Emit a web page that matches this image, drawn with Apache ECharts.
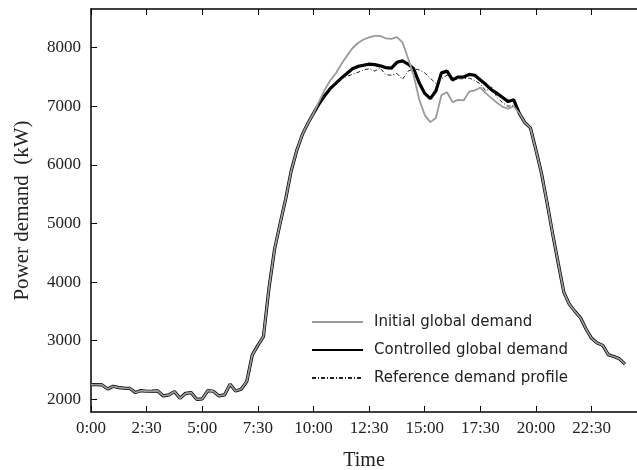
<!DOCTYPE html>
<html><head><meta charset="utf-8">
<script src="https://cdn.jsdelivr.net/npm/echarts@6/dist/echarts.min.js"></script>
<style>html,body{margin:0;padding:0;background:#fff}#c{width:637px;height:470px}</style>
</head><body><div id="c"></div>
<script>
// sampling step of the demand profiles (hours)
const STEP_HOURS = 0.25;

const initialDemand = [
  2250,2250,2245,2176,2222,2199,2190,2185,2114,2148,2137,2138,2142,2057,2074,2131,
  2017,2102,2114,2000,2006,2148,2137,2057,2074,2256,2142,2171,2302,2757,2920,3070,
  3900,4560,5000,5420,5900,6250,6520,6710,6880,7080,7280,7440,7560,7720,7860,7990,
  8080,8140,8175,8200,8200,8160,8150,8180,8090,7820,7530,7120,6850,6730,6800,7190,
  7240,7070,7110,7100,7250,7270,7320,7220,7140,7060,6990,6960,7000,6880,6720,6630,
  6250,5850,5350,4820,4320,3830,3620,3500,3390,3200,3040,2960,2920,2760,2730,2690,2600
];
const controlledDemand = [
  2250,2250,2245,2176,2222,2199,2190,2185,2114,2148,2137,2138,2142,2057,2074,2131,
  2017,2102,2114,2000,2006,2148,2137,2057,2074,2256,2142,2171,2302,2757,2920,3070,
  3900,4560,5000,5420,5900,6250,6520,6710,6880,7040,7180,7300,7390,7480,7560,7640,
  7680,7700,7720,7710,7690,7660,7650,7750,7775,7720,7640,7400,7220,7130,7260,7570,
  7600,7450,7500,7500,7545,7530,7450,7370,7280,7220,7150,7080,7110,6880,6720,6630,
  6250,5850,5350,4820,4320,3830,3620,3500,3390,3200,3040,2960,2920,2760,2730,2690,2600
];
const referenceDemand = [
  2250,2250,2245,2176,2222,2199,2190,2185,2114,2148,2137,2138,2142,2057,2074,2131,
  2017,2102,2114,2000,2006,2148,2137,2057,2074,2256,2142,2171,2302,2757,2920,3070,
  3900,4560,5000,5420,5900,6250,6520,6710,6880,7040,7200,7330,7400,7470,7510,7545,
  7580,7620,7640,7600,7650,7540,7530,7560,7460,7600,7640,7620,7570,7480,7390,7470,
  7530,7430,7470,7470,7480,7440,7380,7260,7330,7150,7060,7000,7020,6880,6720,6630,
  6250,5850,5350,4820,4320,3830,3620,3500,3390,3200,3040,2960,2920,2760,2730,2690,2600
];

const seriesNames = ['Initial global demand', 'Controlled global demand', 'Reference demand profile'];
const xTickHours = [0, 2.5, 5, 7.5, 10, 12.5, 15, 17.5, 20, 22.5];
const yTickValues = [2000, 3000, 4000, 5000, 6000, 7000, 8000];

function toPairs(vals) { return vals.map((v, i) => [i * STEP_HOURS, v]); }
function fmtTime(h) {
  const H = Math.floor(h + 1e-9);
  const M = Math.round((h - H) * 60);
  return H + ':' + (M < 10 ? '0' : '') + M;
}

const chart = echarts.init(document.getElementById('c'), null, { renderer: 'canvas' });
const axisLineStyle = { color: '#000', width: 1.5 };
const tickStyle = { color: '#000', width: 1 };

chart.setOption({
  animation: false,
  backgroundColor: '#fff',
  grid: { left: 91, right: 0, top: 9, bottom: 58, containLabel: false, outerBoundsMode: 'none' },
  legend: {
    orient: 'vertical', left: 311, top: 314, padding: 0,
    itemWidth: 51, itemHeight: 20, itemGap: 12,
    data: seriesNames,
    itemStyle: { opacity: 0 },
    textStyle: { fontFamily: 'DejaVu Sans', fontSize: 15, color: '#222', padding: [0, 0, 0, 6] }
  },
  xAxis: [
    {
      type: 'value', position: 'bottom', min: 0, max: 24.54,
      axisLine: { show: true, onZero: false, lineStyle: axisLineStyle },
      axisTick: { show: true, inside: true, length: 6, lineStyle: tickStyle, customValues: xTickHours },
      axisLabel: {
        show: true, customValues: xTickHours, formatter: fmtTime, margin: 8,
        fontFamily: 'Liberation Serif', fontSize: 17, color: '#222'
      },
      splitLine: { show: false },
      name: 'Time', nameLocation: 'middle', nameGap: 39,
      nameTextStyle: { fontFamily: 'Liberation Serif', fontSize: 20, color: '#222' }
    },
    {
      type: 'value', position: 'top', min: 0, max: 24.54,
      axisLine: { show: true, onZero: false, lineStyle: axisLineStyle },
      axisTick: { show: true, inside: true, length: 6, lineStyle: tickStyle, customValues: xTickHours },
      axisLabel: { show: false },
      splitLine: { show: false }
    }
  ],
  yAxis: {
    type: 'value', min: 1783, max: 8660,
    axisLine: { show: true, onZero: false, lineStyle: axisLineStyle },
    axisTick: { show: true, inside: true, length: 6, lineStyle: tickStyle, customValues: yTickValues },
    axisLabel: {
      show: true, customValues: yTickValues, margin: 10, formatter: v => String(v),
      fontFamily: 'Liberation Serif', fontSize: 17, color: '#222'
    },
    splitLine: { show: false },
    name: 'Power demand  (kW)', nameLocation: 'middle', nameGap: 58,
    nameTextStyle: { fontFamily: 'Liberation Serif', fontSize: 21, color: '#222' }
  },
  series: [
    {
      name: seriesNames[0], type: 'line', xAxisIndex: 0, data: toPairs(initialDemand),
      symbol: 'none', z: 4,
      lineStyle: { color: '#9a9a9a', width: 1.8 }, itemStyle: { color: '#9a9a9a' }
    },
    {
      name: seriesNames[1], type: 'line', xAxisIndex: 0, data: toPairs(controlledDemand),
      symbol: 'none', z: 2,
      lineStyle: { color: '#000', width: 3.2 }, itemStyle: { color: '#000' }
    },
    {
      name: seriesNames[2], type: 'line', xAxisIndex: 0, data: toPairs(referenceDemand),
      symbol: 'none', z: 3,
      lineStyle: { color: '#222', width: 1, type: [4, 2, 1, 2] }, itemStyle: { color: '#222' }
    }
  ]
});
</script>
</body></html>
